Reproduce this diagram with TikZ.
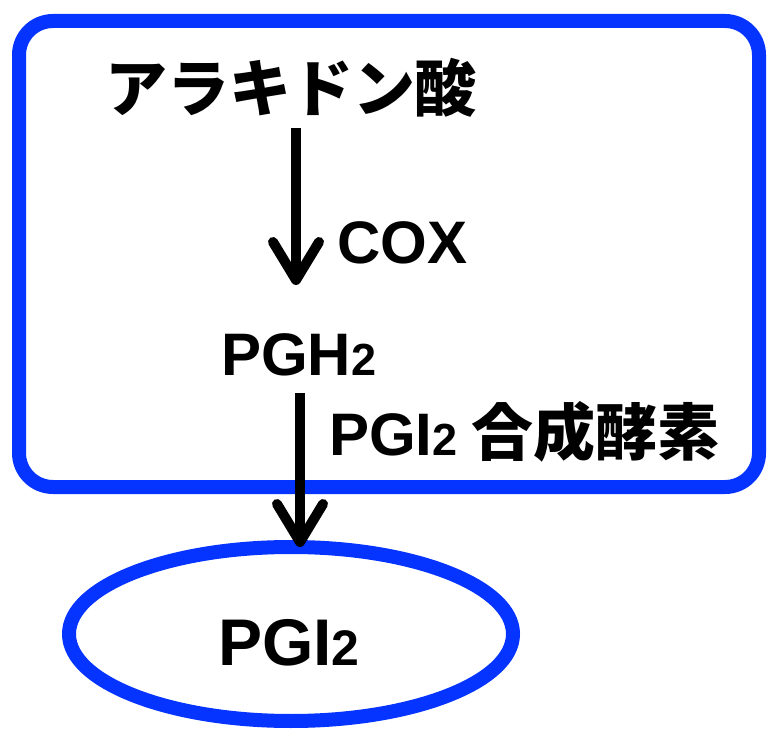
\documentclass[tikz,border=0pt]{standalone}
\usepackage{fontspec}
\setmainfont{Noto Sans CJK JP}
\newfontfamily\lat{Liberation Sans}
\usetikzlibrary{arrows.meta,shapes.geometric}
\definecolor{boxblue}{RGB}{5,51,255}
\begin{document}
\begin{tikzpicture}[x=1pt,y=-1pt,
  every node/.style={inner sep=0pt,outer sep=0pt},
  bluebox/.style={draw=boxblue,line width=14pt,rounded corners=34pt},
  arr/.style={line width=10pt,-{Straight Barb[length=38pt,width=46pt,line width=10pt,round]}},
  lbl/.style={font=\bfseries\fontsize{60}{66}\selectfont}]
\useasboundingbox (0,0) rectangle (769,735);
\draw[bluebox] (19,21) rectangle (759,487);
\node[ellipse,draw=boxblue,line width=14pt,minimum width=444pt,minimum height=174pt] (ell) at (291,634) {};
\node[font=\bfseries\fontsize{62}{68}\selectfont] (ara) at (291,88) {アラキドン酸};
\node[lbl,anchor=base west] (cox) at (337,264) {\lat COX};
\node[lbl,anchor=base west] (pgh) at (221,376) {\lat PGH{\fontsize{45}{50}\selectfont 2}};
\node[lbl,anchor=base west] (enz) at (329,456) {{\lat PGI{\fontsize{45}{50}\selectfont 2}}\hspace{14pt}{\fontsize{62}{66}\selectfont 合成酵素}};
\node[font=\bfseries\fontsize{66}{72}\selectfont,anchor=base] (pgi) at (289,665) {\lat PGI{\fontsize{50}{56}\selectfont 2}};
\coordinate (a1s) at (296,128);
\coordinate (a1e) at (296,285);
\coordinate (a2s) at (300,393);
\draw[arr] (a1s) -- (a1e);
\draw[arr] (a2s) -- (a2s |- ell.north);
\end{tikzpicture}
\end{document}
